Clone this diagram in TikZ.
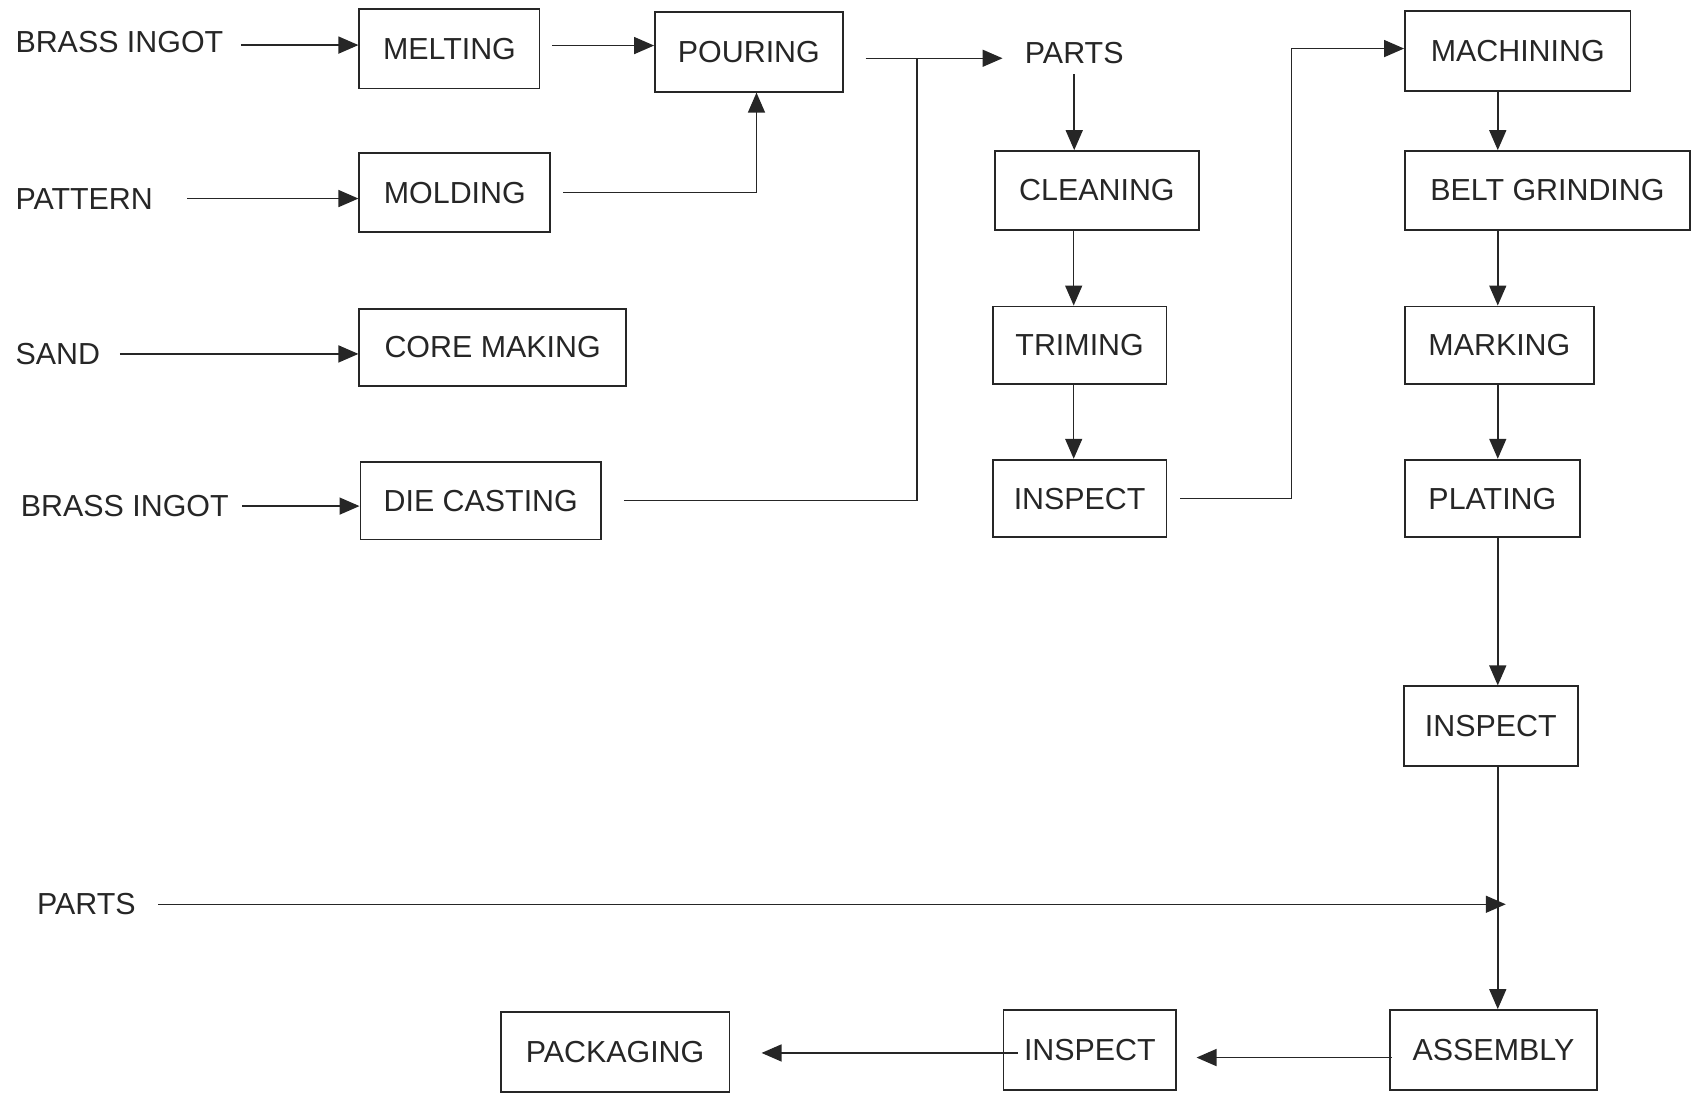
\documentclass[tikz,border=0pt]{standalone}
\usepackage{fontspec}
\setmainfont{Liberation Sans}
\usetikzlibrary{arrows.meta}
\newcommand\bx[6]{\node[box, minimum width={(#4-#2)*0.5395pt}, minimum height={(#5-#3)*0.5395pt}] (#1) at ({(#2+#4)/2},{(#3+#5)/2}) {#6};}
\tikzset{
  txt/.style={font=\fontsize{15.2}{18}\selectfont, text=black!85},
  box/.style={txt, draw=black!85, line width=0.9pt, inner sep=0pt},
  lbl/.style={txt, inner sep=0pt, anchor=west},
  ln/.style={draw=black!85, line width=0.75pt},
  arr/.style={ln, -{Triangle[length=10pt,width=8.5pt]}},
}
\begin{document}
\begin{tikzpicture}[x=0.5395pt, y=-0.5395pt]
\useasboundingbox (0,0) rectangle (1568,1014);
% labels
\node[lbl] (bi1) at (14,39) {BRASS INGOT};
\node[lbl] (pat) at (14,184) {PATTERN};
\node[lbl] (sand) at (14,328) {SAND};
\node[lbl] (bi2) at (19,469) {BRASS INGOT};
\node[txt, inner sep=0pt] (parts1) at (995.5,49) {PARTS};
\node[lbl] (parts2) at (34,838) {PARTS};
% boxes
\bx{melt}{333}{8}{500}{82}{MELTING}
\bx{pour}{607}{11}{781}{85}{POURING}
\bx{mold}{333}{142}{510}{215}{MOLDING}
\bx{core}{333}{286}{580}{358}{CORE MAKING}
\bx{die}{334}{428}{557}{500}{DIE CASTING}
\bx{clean}{922}{140}{1111}{213}{CLEANING}
\bx{trim}{920}{284}{1081}{356}{TRIMING}
\bx{insp1}{920}{426}{1081}{498}{INSPECT}
\bx{mach}{1302}{10}{1511}{84}{MACHINING}
\bx{belt}{1302}{140}{1566}{213}{BELT GRINDING}
\bx{mark}{1302}{284}{1477}{356}{MARKING}
\bx{plat}{1302}{426}{1464}{498}{PLATING}
\bx{insp2}{1301}{636}{1462}{710}{INSPECT}
\bx{assy}{1288}{936}{1480}{1010}{ASSEMBLY}
\bx{insp3}{930}{936}{1090}{1010}{INSPECT}
\bx{pack}{464}{938}{676}{1012}{PACKAGING}
% helper coordinates
\coordinate (j1) at (850,54);
\coordinate (j2) at (1197,45);
\coordinate (c1) at (995,0);
\coordinate (c2) at (1388,0);
% left inputs
\draw[arr, shorten <=8.6pt] ([yshift=-1.5pt]bi1.east) -- ([yshift=-1.5pt]bi1.east -| melt.west);
\draw[arr, shorten <=6pt] ([yshift=1.5pt]melt.east) -- ([yshift=1.5pt]melt.east -| pour.west);
\draw[arr, shorten <=17pt] (pat) -- (pat -| mold.west);
\draw[arr, shorten <=9.7pt] (sand) -- (sand -| core.west);
\draw[arr, shorten <=6.5pt] (bi2) -- (bi2 -| die.west);
\draw[arr, shorten <=6pt] (mold.east) -| ([xshift=3.8pt]pour.south);
% to parts
\draw[arr, shorten <=11pt, shorten >=11pt] (pour.east |- j1) -- (parts1.west |- j1);
\draw[ln, shorten <=11pt] (die.east) -- (die.east -| j1) -- (j1);
% middle column
\draw[arr, shorten <=5pt] (parts1.south) -- (parts1.south |- clean.north);
\draw[arr] (c1 |- clean.south) -- (c1 |- trim.north);
\draw[arr] (c1 |- trim.south) -- (c1 |- insp1.north);
\draw[arr, shorten <=6.5pt] (insp1.east) -| (j2) -- (j2 -| mach.west);
% right column
\draw[arr] (c2 |- mach.south) -- (c2 |- belt.north);
\draw[arr] (c2 |- belt.south) -- (c2 |- mark.north);
\draw[arr] (c2 |- mark.south) -- (c2 |- plat.north);
\draw[arr] (c2 |- plat.south) -- (c2 |- insp2.north);
\draw[arr] (c2 |- insp2.south) -- (c2 |- assy.north);
\draw[arr, shorten <=11pt, shorten >=-4pt] (parts2) -- (parts2 -| c2);
% bottom row
\draw[arr, shorten <=-1.5pt, shorten >=9.7pt] ([yshift=-3.8pt]assy.west) -- ([yshift=-3.8pt]assy.west -| insp3.east);
\draw[arr, shorten <=-7.5pt, shorten >=15.6pt] ([yshift=-1.5pt]insp3.west) -- ([yshift=-1.5pt]insp3.west -| pack.east);
\end{tikzpicture}
\end{document}
